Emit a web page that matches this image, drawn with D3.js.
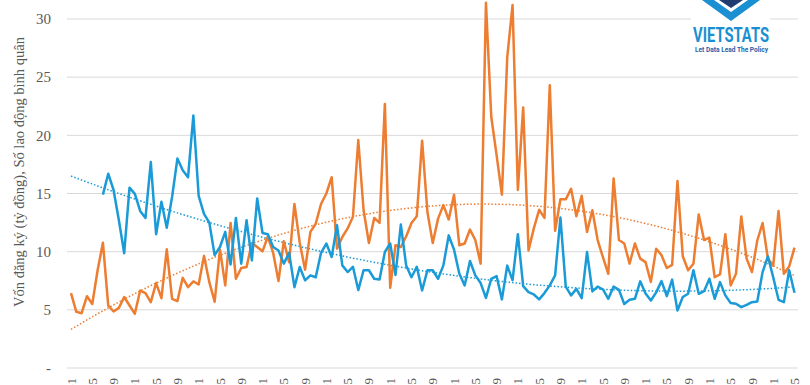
<!DOCTYPE html>
<html>
<head>
<meta charset="utf-8">
<script src="https://cdn.jsdelivr.net/npm/d3@7"></script>
<style>
  body { margin: 0; background: #fff; }
  svg { display: block; }
</style>
</head>
<body>
<script>
// monthly values, 137 months
var vonDangKy = [6.43, 4.83, 4.71, 6.17, 5.5, 8.4, 10.76, 5.37, 4.86, 5.17,
  6.1, 5.37, 4.66, 6.66, 6.43, 5.66, 7.3, 6.0, 10.2, 5.95,
  5.75, 7.75, 6.95, 7.44, 7.18, 9.64, 7.38, 5.7, 10.17, 7.1,
  12.47, 7.67, 8.6, 8.68, 10.75, 10.4, 10.03, 11.3, 9.9, 7.47,
  10.9, 9.1, 14.1, 10.75, 8.45, 11.7, 12.4, 14.1, 15.0, 16.4,
  10.26, 11.26, 12.0, 13.0, 19.6, 13.56, 10.75, 12.9, 12.47, 22.7,
  6.9, 10.55, 10.4, 11.3, 12.47, 13.05, 19.54, 13.4, 10.75, 12.84,
  14.0, 12.76, 14.9, 10.55, 10.7, 11.9, 11.0, 8.97, 31.4, 21.6,
  18.3, 14.9, 26.7, 31.2, 15.3, 22.4, 10.1, 12.0, 13.6, 12.9,
  24.3, 11.8, 14.5, 14.5, 15.4, 13.05, 14.8, 11.7, 13.56, 11.0,
  9.5, 8.1, 16.3, 11.0, 10.7, 8.97, 10.7, 9.4, 9.1, 7.4,
  10.25, 9.7, 8.6, 8.87, 16.07, 9.6, 8.4, 8.96, 13.2, 11.0,
  11.2, 7.8, 8.04, 11.5, 7.1, 8.1, 13.03, 9.4, 8.24, 10.96,
  12.46, 9.4, 8.8, 13.5, 8.1, 8.73, 10.34];

var soLaoDong = [null, null, null, null, null, null, 14.9, 16.7, 15.3, 12.7,
  9.87, 15.5, 14.97, 13.5, 12.9, 17.7, 11.5, 14.3, 12.05, 14.7,
  18.0, 17.0, 16.4, 21.7, 14.8, 13.25, 12.5, 9.7, 10.4, 11.7,
  8.9, 12.9, 8.97, 12.7, 9.25, 14.57, 11.6, 11.5, 10.4, 10.1,
  8.97, 9.9, 6.95, 8.68, 7.53, 7.96, 7.8, 9.9, 10.7, 9.54,
  12.27, 8.82, 8.25, 8.7, 6.7, 8.4, 8.4, 7.67, 7.6, 9.97,
  10.7, 8.0, 12.33, 8.82, 7.8, 8.7, 6.67, 8.4, 8.4, 7.67,
  8.82, 11.4, 10.17, 8.1, 7.1, 9.2, 7.96, 7.3, 6.03, 7.67,
  7.9, 5.9, 8.8, 7.55, 11.5, 7.04, 6.52, 6.32, 5.9, 6.44,
  7.1, 7.96, 12.93, 7.0, 6.24, 6.8, 6.0, 9.97, 6.58, 7.0,
  6.75, 5.95, 7.0, 6.72, 5.5, 5.86, 5.95, 7.45, 6.4, 5.8,
  6.5, 7.47, 6.18, 7.6, 4.94, 6.1, 6.38, 8.4, 6.38, 6.6,
  7.67, 5.95, 7.38, 6.24, 5.58, 5.52, 5.23, 5.43, 5.66, 5.72,
  8.24, 9.6, 7.8, 5.86, 5.66, 8.4, 6.47];

// one label every 4 months
var tickLabels = ["2010-1", "2010-5", "2010-9", "2011-1", "2011-5", "2011-9",
  "2012-1", "2012-5", "2012-9", "2013-1", "2013-5", "2013-9",
  "2014-1", "2014-5", "2014-9", "2015-1", "2015-5", "2015-9",
  "2016-1", "2016-5", "2016-9", "2017-1", "2017-5", "2017-9",
  "2018-1", "2018-5", "2018-9", "2019-1", "2019-5", "2019-9",
  "2020-1", "2020-5", "2020-9", "2021-1", "2021-5"];

var yTicks = [0, 5, 10, 15, 20, 25, 30];

var orange = "#ed7d31", blue = "#1a9bd7";
var serif = "'Liberation Serif', 'DejaVu Serif', serif";

var svg = d3.select("body").append("svg").attr("width", 810).attr("height", 385);

var idx = d3.range(vonDangKy.length);
var x = d3.scalePoint().domain(idx).range([71, 794.5]);
var y = d3.scaleLinear().domain([0, 30]).range([368, 19]);

// gridlines
svg.selectAll("line.grid")
  .data(yTicks)
  .enter().append("line")
          .attr("class", "grid")
          .attr("x1", 67).attr("x2", 798)
          .attr("y1", function(d){ return y(d); })
          .attr("y2", function(d){ return y(d); })
          .attr("stroke", "#d9d9d9")
          .attr("stroke-width", 1);

svg.selectAll("text.ytick")
  .data(yTicks)
  .enter().append("text")
          .attr("class", "ytick")
          .attr("x", 51)
          .attr("y", function(d){ return y(d); })
          .attr("dy", "0.35em")
          .attr("text-anchor", "end")
          .attr("font-family", serif)
          .attr("font-size", 15)
          .attr("fill", "#595959")
          .text(function(d){ return d == 0 ? "-" : d; });

svg.append("text")
   .attr("transform", "translate(24,172) rotate(-90)")
   .attr("text-anchor", "middle")
   .attr("font-family", serif)
   .attr("font-size", 14.5)
   .attr("fill", "#595959")
   .text("Vốn đăng ký (tỷ đồng), Số lao động bình quân");

// labels run off the bottom edge, only the month digit shows
svg.selectAll("text.xtick")
  .data(tickLabels)
  .enter().append("text")
          .attr("class", "xtick")
          .attr("transform", function(d, i){ return "translate(" + x(i * 4) + ",378) rotate(-90)"; })
          .attr("dy", "0.35em")
          .attr("text-anchor", "end")
          .attr("font-family", serif)
          .attr("font-size", 13)
          .attr("fill", "#595959")
          .text(function(d){ return d; });

// quadratic trendline (least squares)
function polyFit(vals) {
  var S = [[0,0,0],[0,0,0],[0,0,0]], b = [0,0,0];
  vals.forEach(function(v, i){
    if (v == null) return;
    var p = [1, i, i*i];
    for (var r = 0; r < 3; r++) {
      b[r] += p[r] * v;
      for (var c = 0; c < 3; c++) S[r][c] += p[r] * p[c];
    }
  });
  for (var k = 0; k < 3; k++) {
    for (var r = k + 1; r < 3; r++) {
      var f = S[r][k] / S[k][k];
      for (var c = k; c < 3; c++) S[r][c] -= f * S[k][c];
      b[r] -= f * b[k];
    }
  }
  var a = [0,0,0];
  for (var r = 2; r >= 0; r--) {
    var s = b[r];
    for (var c = r + 1; c < 3; c++) s -= S[r][c] * a[c];
    a[r] = s / S[r][r];
  }
  return function(i){ return a[0] + a[1]*i + a[2]*i*i; };
}

var line = d3.line()
  .defined(function(d){ return d != null; })
  .x(function(d, i){ return x(i); })
  .y(function(d){ return y(d); });

var trend = d3.line()
  .x(function(d){ return x(d[0]); })
  .y(function(d){ return y(d[1]); });

[[vonDangKy, orange], [soLaoDong, blue]].forEach(function(s){
  var fit = polyFit(s[0]);
  svg.append("path")
     .attr("d", trend(idx.map(function(i){ return [i, fit(i)]; })))
     .attr("fill", "none")
     .attr("stroke", s[1])
     .attr("stroke-width", 1.5)
     .attr("stroke-dasharray", "1.5,2");
});

svg.append("path")
   .attr("d", line(vonDangKy))
   .attr("fill", "none")
   .attr("stroke", orange)
   .attr("stroke-width", 2.5)
   .attr("stroke-linejoin", "round");

svg.append("path")
   .attr("d", line(soLaoDong))
   .attr("fill", "none")
   .attr("stroke", blue)
   .attr("stroke-width", 2.5)
   .attr("stroke-linejoin", "round");

// logo
var logo = svg.append("g");
logo.append("rect").attr("x", 691).attr("y", 0).attr("width", 79).attr("height", 55).attr("fill", "#fff");
logo.append("polygon")
    .attr("points", "702,0 731,21 760,0 748,0 731,12 714,0")
    .attr("fill", "#1a8fd1");
logo.append("polygon")
    .attr("points", "719,0 731,8 743,0")
    .attr("fill", "#1f3b70");
logo.append("text")
    .attr("x", 693).attr("y", 42)
    .attr("textLength", 76).attr("lengthAdjust", "spacingAndGlyphs")
    .attr("font-family", "Roboto, 'DejaVu Sans', sans-serif")
    .attr("font-weight", "bold")
    .attr("font-size", 20)
    .attr("fill", "#1a8fd1")
    .text("VIETSTATS");
logo.append("text")
    .attr("x", 695).attr("y", 52)
    .attr("textLength", 73).attr("lengthAdjust", "spacingAndGlyphs")
    .attr("font-family", "Roboto, 'DejaVu Sans', sans-serif")
    .attr("font-weight", "bold")
    .attr("font-size", 8)
    .attr("fill", "#1c63ad")
    .text("Let Data Lead The Policy");
</script>
</body>
</html>
